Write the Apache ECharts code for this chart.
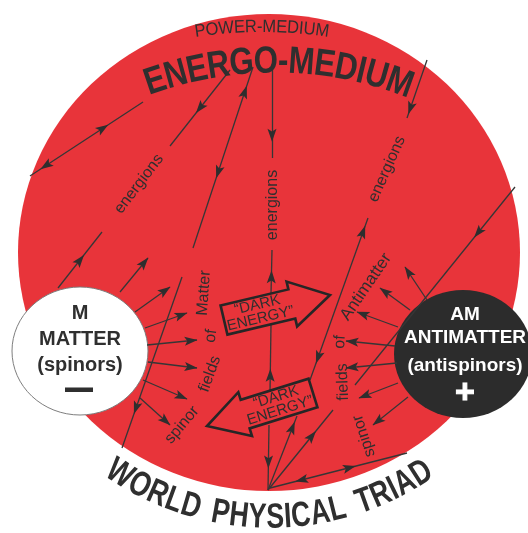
<!DOCTYPE html>
<html><head><meta charset="utf-8">
<script src="https://cdn.jsdelivr.net/npm/echarts@6/dist/echarts.min.js"></script>
<style>html,body{margin:0;padding:0;background:#fff;}#c{width:528px;height:533px;}</style>
</head><body><div id="c"></div>
<script>
// ---------------- DATA ----------------
const W = 528, H = 533;

// three nodes of the triad (centre, radii in chart units)
const nodeNames   = ['ENERGO-MEDIUM', 'MATTER', 'ANTIMATTER'];
const nodeCenters = [[269, 252.5], [80, 351], [463, 354]];
const nodeRadii   = [[251, 238.5], [68, 64], [69, 64]];

// arrow lines: [x1, y1, x2, y2]
const arrowLines = [
  [143,102,30,176],   // 0
  [230,70,170,146],   // 1
  [58,288,102,232],   // 2
  [253,67,193,248],   // 3
  [182,277,122,448],  // 4
  [272,67,272,158],   // 5
  [272,250,271,294],  // 6
  [271,325,270,392],  // 7
  [269,425,268,490],  // 8
  [427,60,407,118],   // 9
  [368,218,310,380],  // 10
  [515,187,355,385],  // 11
  [268,490,333,410],  // 12
  [268,490,297,416],  // 13
  [270,488,407,453],  // 14
  [427,300,405,267],  // 15 antimatter rays
  [410,310,380,288],
  [398,327,357,312],
  [395,346,346,341],
  [397,363,346,368],
  [398,383,359,398],
  [408,397,373,425],  // 21
  [120,292,148,258],  // 22 matter rays
  [135,312,170,287],
  [145,328,187,313],
  [147,345,197,340],
  [148,362,197,368],
  [143,380,187,399],
  [140,398,170,425]   // 28
];
// arrow heads: [lineIndex, fraction along line, direction (+1 toward end, -1 toward start)]
const arrowHeads = [
  [0,0.355,-1],[0,0.86,1],[1,0.5,1],[2,0.5,1],[3,0.138,-1],[3,0.58,1],[4,0.766,1],
  [5,0.75,1],[6,0.61,-1],[7,0.75,-1],[8,0.57,1],[9,0.83,1],[10,0.086,-1],[10,0.86,1],
  [11,0.23,1],[12,0.675,1],[13,0.84,1],[14,0.23,-1],[14,0.58,1],
  [15,1,1],[16,1,1],[17,1,1],[18,1,1],[19,1,1],[20,1,1],[21,1,1],
  [22,1,1],[23,1,1],[24,1,1],[25,1,1],[26,1,1],[27,1,1],[28,1,1]
];

// "DARK ENERGY" arrows: [tailX, tailY, tipX, tipY]
const darkTexts  = ['\u201cDARK\nENERGY\u201d', '\u201cDARK\nENERGY\u201d'];
const darkArrows = [[224,320,330,295],[313,393,207,426]];

// straight labels
const labelTexts = ['energions','energions','energions',
  'spinor','fields','of','Matter',
  'spinor','fields','of','Antimatter',
  'M','MATTER','(spinors)','\u2014',
  'AM','ANTIMATTER','(antispinors)','+'];
const labelAnchors = [[139,184],[273,205],[387,169],
  [182,425],[210,374],[211,336],[204,293],
  [364,436],[343,382],[340,342],[366,287],
  [80,313],[80,339],[80,365],[79,390],
  [465,315],[465,338],[465,366],[465,394]];
const labelAngles = [52.6,90,66, 50,70,82,86, 108,92,86,55.6, 0,0,0,0, 0,0,0,0];

// curved titles
const arcTexts = ['POWER-MEDIUM', 'ENERGO-MEDIUM', 'WORLD PHYSICAL TRIAD'];
const arcCenters = [[262,477],[275,433],[270,238]];
const arcRadii = [450, 371, 280];
const arcAngles = [[-7.9,7.7],[-18.8,19.6],[-32.5,32.8]];

// ---------------- STYLE ----------------
const RED = '#e8343a', INK = '#2f2f2f';
const FONT = '"Liberation Sans", Arial, Helvetica, sans-serif';
const nodeStyles = [
  {fill: RED, stroke: null, lineWidth: 0},
  {fill: '#ffffff', stroke: '#7a7a7a', lineWidth: 1},
  {fill: '#2c2c2c', stroke: null, lineWidth: 0}
];
const labelStyles = labelTexts.map((t, i) => {
  if (i < 10) return {font: '16px ' + FONT, fill: INK};
  if (i === 10) return {font: '17px ' + FONT, fill: INK};
  if (i === 14) return {font: 'bold 26px ' + FONT, fill: INK, stroke: INK, lineWidth: 2};
  if (i < 14) return {font: 'bold 20px ' + FONT, fill: INK};
  if (i === 18) return {font: 'bold 34px ' + FONT, fill: '#fff', stroke: '#fff', lineWidth: 1};
  return {font: 'bold 19px ' + FONT, fill: '#ffffff'};
});
const arcStyles = [
  {font: '18px ' + FONT, side: 'top', spaceK: 1},
  {font: 'bold 38px ' + FONT, side: 'top', spaceK: 1},
  {font: 'bold 35px ' + FONT, side: 'bottom', spaceK: 1.6}
];

// ---------------- HELPERS ----------------
const mctx = document.createElement('canvas').getContext('2d');
const deg = Math.PI / 180;

const headData = arrowHeads.map(h => {
  const l = arrowLines[h[0]];
  let dx = (l[2] - l[0]) * h[2], dy = (l[3] - l[1]) * h[2];
  const len = Math.hypot(dx, dy); dx /= len; dy /= len;
  let x, y;
  if (h[1] === 1) { x = l[2] - dx * 6; y = l[3] - dy * 6; }
  else { x = l[0] + (l[2] - l[0]) * h[1]; y = l[1] + (l[3] - l[1]) * h[1]; }
  return {value: [x, y], symbolRotate: Math.atan2(-dx, -dy) / deg};
});

function renderDisc(params, api) {
  const i = params.dataIndex;
  const p = api.coord(nodeCenters[i]);
  const rx = api.size([nodeRadii[i][0], 0])[0];
  const ry = api.size([0, nodeRadii[i][1]])[1];
  const s = nodeStyles[i];
  return {type: 'circle', x: p[0], y: p[1], scaleY: ry / rx,
    shape: {cx: 0, cy: 0, r: rx},
    style: {fill: s.fill, stroke: s.stroke, lineWidth: s.lineWidth}};
}

function renderDark(params, api) {
  const a = darkArrows[params.dataIndex];
  const t0 = api.coord([a[0], a[1]]), t1 = api.coord([a[2], a[3]]);
  const L = Math.hypot(t1[0] - t0[0], t1[1] - t0[1]);
  const ux = (t1[0] - t0[0]) / L, uy = (t1[1] - t0[1]) / L;
  const vx = -uy, vy = ux;
  const h = 15, Hh = 23, b = 0.64 * L;
  const pt = (u, v) => [t0[0] + ux * u + vx * v, t0[1] + uy * u + vy * v];
  const pts = [pt(0, -h), pt(b, -h), pt(b, -Hh), pt(L, 0), pt(b, Hh), pt(b, h), pt(0, h)];
  const c = pt(0.33 * L, 0);
  let ang = Math.atan2(uy, ux);
  if (ux < 0) ang = Math.atan2(-uy, -ux);
  return {type: 'group', children: [
    {type: 'polygon', shape: {points: pts}, style: {fill: 'none', stroke: '#262626', lineWidth: 2.6}},
    {type: 'text', x: c[0], y: c[1], rotation: -ang,
      style: {text: darkTexts[params.dataIndex], font: '15px ' + FONT, fill: INK,
        align: 'center', verticalAlign: 'middle', lineHeight: 14}}
  ]};
}

function renderLabel(params, api) {
  const i = params.dataIndex;
  const p = api.coord(labelAnchors[i]);
  const s = labelStyles[i];
  return {type: 'text', x: p[0], y: p[1], rotation: labelAngles[i] * deg,
    style: {text: labelTexts[i], font: s.font, fill: s.fill, stroke: s.stroke || null,
      lineWidth: s.lineWidth || 0, align: 'center', verticalAlign: 'middle'}};
}

function renderArc(params, api) {
  const i = params.dataIndex;
  const st = arcStyles[i];
  mctx.font = st.font;
  const chars = Array.from(arcTexts[i]);
  const w = chars.map(c => mctx.measureText(c).width * (c === ' ' ? st.spaceK : 1));
  let cum = 0;
  const cen = w.map(x => { const c = cum + x / 2; cum += x; return c; });
  const span = cen[cen.length - 1] - cen[0];
  const c0 = api.coord(arcCenters[i]);
  const r = api.size([arcRadii[i], 0])[0];
  const a0 = arcAngles[i][0] * deg, a1 = arcAngles[i][1] * deg;
  const sx = Math.min(1, (a1 - a0) * r / span);
  const children = [];
  chars.forEach((ch, k) => {
    if (ch === ' ') return;
    const th = a0 + (cen[k] - cen[0]) / span * (a1 - a0);
    const top = st.side === 'top';
    children.push({type: 'text',
      x: c0[0] + r * Math.sin(th),
      y: c0[1] + (top ? -1 : 1) * r * Math.cos(th),
      rotation: top ? -th : th, scaleX: sx,
      style: {text: ch, font: st.font, fill: INK, align: 'center', verticalAlign: 'middle'}});
  });
  return {type: 'group', children};
}

// ---------------- CHART ----------------
const chart = echarts.init(document.getElementById('c'), null, {renderer: 'canvas'});
chart.setOption({
  animation: false,
  backgroundColor: '#ffffff',
  grid: {left: 0, right: 0, top: 0, bottom: 0},
  xAxis: {type: 'value', min: 0, max: W, show: false},
  yAxis: {type: 'value', min: 0, max: H, inverse: true, show: false},
  series: [
    {type: 'custom', name: 'nodes', z: 1, silent: true, renderItem: renderDisc,
      data: nodeCenters.map((c, i) => ({name: nodeNames[i], value: c}))},
    {type: 'lines', coordinateSystem: 'cartesian2d', z: 3, silent: true, symbol: 'none',
      lineStyle: {color: '#363636', width: 1.3, opacity: 1},
      data: arrowLines.map(l => ({coords: [[l[0], l[1]], [l[2], l[3]]]}))},
    {type: 'scatter', z: 4, silent: true, symbol: 'path://M5,0L10,14L5,11L0,14Z',
      symbolSize: [9, 13], itemStyle: {color: '#2e2e2e', opacity: 1}, data: headData},
    {type: 'custom', name: 'dark', z: 4, silent: true, renderItem: renderDark,
      data: darkArrows.map(a => [a[0], a[1]])},
    {type: 'custom', name: 'labels', z: 5, silent: true, renderItem: renderLabel,
      data: labelAnchors},
    {type: 'custom', name: 'titles', z: 5, silent: true, renderItem: renderArc,
      data: arcCenters}
  ]
});
</script></body></html>
